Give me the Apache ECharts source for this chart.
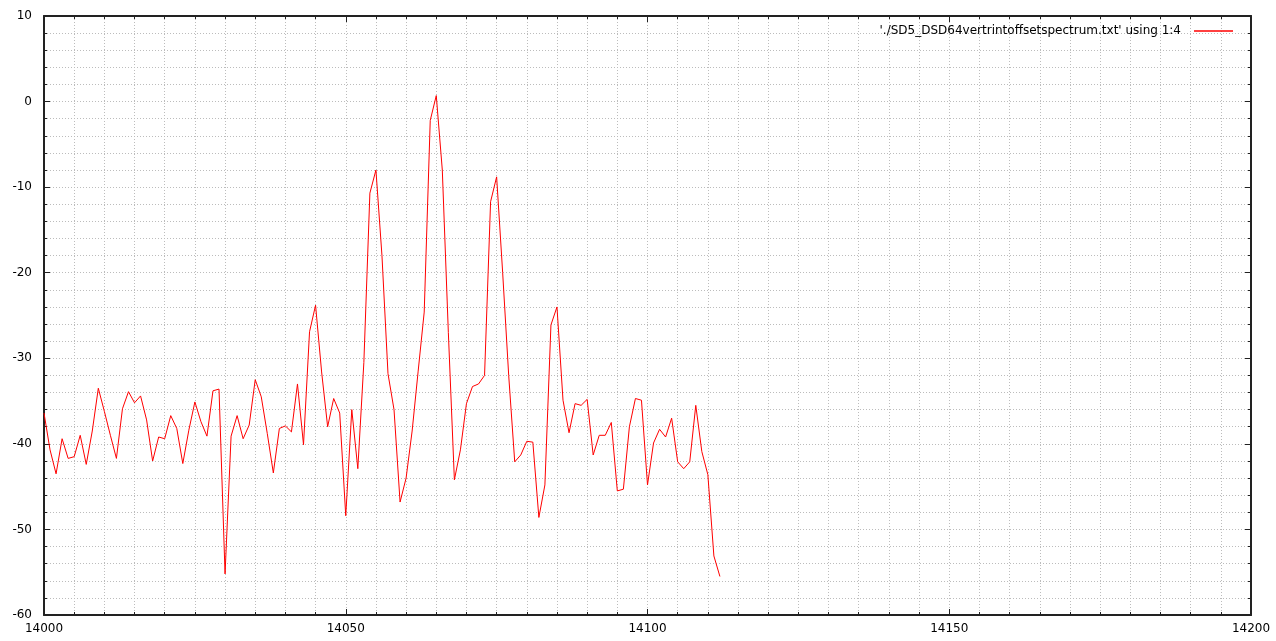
<!DOCTYPE html>
<html>
<head>
<meta charset="utf-8">
<script src="https://cdn.jsdelivr.net/npm/echarts@6/dist/echarts.min.js"></script>
<style>
  html, body { margin: 0; padding: 0; background: #ffffff; }
  #chart { width: 1276px; height: 641px; }
</style>
</head>
<body>
<div id="chart"></div>
<script>
// x values (column 1)
const xValues = [
  14000, 14001, 14002, 14003, 14004, 14005, 14006, 14007, 14008, 14009,
  14010, 14011, 14012, 14013, 14014, 14015, 14016, 14017, 14018, 14019,
  14020, 14021, 14022, 14023, 14024, 14025, 14026, 14027, 14028, 14029,
  14030, 14031, 14032, 14033, 14034, 14035, 14036, 14037, 14038, 14039,
  14040, 14041, 14042, 14043, 14044, 14045, 14046, 14047, 14048, 14049,
  14050, 14051, 14052, 14053, 14054, 14055, 14056, 14057, 14058, 14059,
  14060, 14061, 14062, 14063, 14064, 14065, 14066, 14067, 14068, 14069,
  14070, 14071, 14072, 14073, 14074, 14075, 14076, 14077, 14078, 14079,
  14080, 14081, 14082, 14083, 14084, 14085, 14086, 14087, 14088, 14089,
  14090, 14091, 14092, 14093, 14094, 14095, 14096, 14097, 14098, 14099,
  14100, 14101, 14102, 14103, 14104, 14105, 14106, 14107, 14108, 14109,
  14110, 14111, 14112
];
// y values (column 4)
const yValues = [
  -36.4, -40.7, -43.5, -39.4, -41.7, -41.5, -39.0, -42.4, -38.5, -33.5,
  -36.2, -39.0, -41.7, -35.9, -33.9, -35.2, -34.4, -37.2, -42.0, -39.2,
  -39.4, -36.7, -38.2, -42.3, -38.4, -35.1, -37.4, -39.1, -33.8, -33.6,
  -55.2, -39.1, -36.7, -39.4, -37.8, -32.5, -34.5, -38.8, -43.4, -38.2,
  -37.9, -38.6, -33.0, -40.1, -26.9, -23.8, -31.6, -38.0, -34.7, -36.4,
  -48.4, -36.0, -42.9, -30.5, -10.7, -8.0, -18.0, -31.8, -36.0, -46.8,
  -44.0, -38.5, -31.5, -24.6, -2.2, 0.7, -8.0, -27.0, -44.2, -40.7,
  -35.3, -33.3, -33.0, -32.0, -11.7, -8.8, -20.0, -32.0, -42.1, -41.3,
  -39.7, -39.8, -48.6, -44.8, -26.1, -24.0, -34.9, -38.7, -35.3, -35.5,
  -34.8, -41.3, -39.0, -39.0, -37.5, -45.5, -45.3, -38.0, -34.7, -34.9,
  -44.8, -39.9, -38.3, -39.2, -37.0, -42.1, -42.9, -42.1, -35.5, -40.9,
  -43.6, -53.1, -55.5
];
const seriesName = "'./SD5_DSD64vertrintoffsetspectrum.txt' using 1:4";
const xTicks = [14000, 14050, 14100, 14150, 14200];
const yTicks = [-60, -50, -40, -30, -20, -10, 0, 10];

const points = xValues.map((x, i) => [x, yValues[i]]);

const font = 'DejaVu Sans, sans-serif';
const axisColor = '#222222';
const gridLine = { show: true, lineStyle: { color: '#bcbcbc', width: 1, type: [1, 2] } };

function xAxisCfg(pos, labels) {
  return {
    type: 'value', position: pos,
    min: xTicks[0], max: xTicks[xTicks.length - 1], interval: 50,
    axisLine: { show: true, onZero: false, lineStyle: { color: axisColor, width: 2 } },
    axisTick: { show: true, inside: true, length: 6, lineStyle: { color: axisColor, width: 1 } },
    minorTick: { show: true, splitNumber: 10, length: 3, lineStyle: { color: axisColor, width: 1 } },
    splitLine: labels ? gridLine : { show: false },
    minorSplitLine: labels ? gridLine : { show: false },
    axisLabel: { show: labels, margin: 8, fontSize: 12, color: '#000', fontFamily: font,
                 formatter: v => String(v) }
  };
}
function yAxisCfg(pos, labels) {
  return {
    type: 'value', position: pos,
    min: yTicks[0], max: yTicks[yTicks.length - 1], interval: 10,
    axisLine: { show: true, onZero: false, lineStyle: { color: axisColor, width: 2 } },
    axisTick: { show: true, inside: true, length: 6, lineStyle: { color: axisColor, width: 1 } },
    minorTick: { show: true, splitNumber: 5, length: 3, lineStyle: { color: axisColor, width: 1 } },
    splitLine: labels ? gridLine : { show: false },
    minorSplitLine: labels ? gridLine : { show: false },
    axisLabel: { show: labels, margin: 12, fontSize: 12, color: '#000', fontFamily: font,
                 formatter: v => String(v) }
  };
}

const chart = echarts.init(document.getElementById('chart'), null, { renderer: 'canvas' });
chart.setOption({
  animation: false,
  backgroundColor: '#ffffff',
  grid: { left: 44, right: 25, top: 16, bottom: 26, containLabel: false },
  legend: {
    show: true,
    right: 38, top: 20,
    align: 'right',
    icon: 'rect',
    itemWidth: 39, itemHeight: 1.5,
    itemGap: 12,
    textStyle: { fontSize: 12, color: '#000', fontFamily: font, padding: [0, 8, 0, 0] },
    data: [seriesName]
  },
  xAxis: [xAxisCfg('bottom', true), xAxisCfg('top', false)],
  yAxis: [yAxisCfg('left', true), yAxisCfg('right', false)],
  series: [{
    name: seriesName,
    type: 'line',
    xAxisIndex: 0, yAxisIndex: 0,
    data: points,
    showSymbol: false,
    symbol: 'none',
    lineStyle: { color: '#ff0000', width: 1 },
    itemStyle: { color: '#ff0000' }
  }]
});
</script>
</body>
</html>
